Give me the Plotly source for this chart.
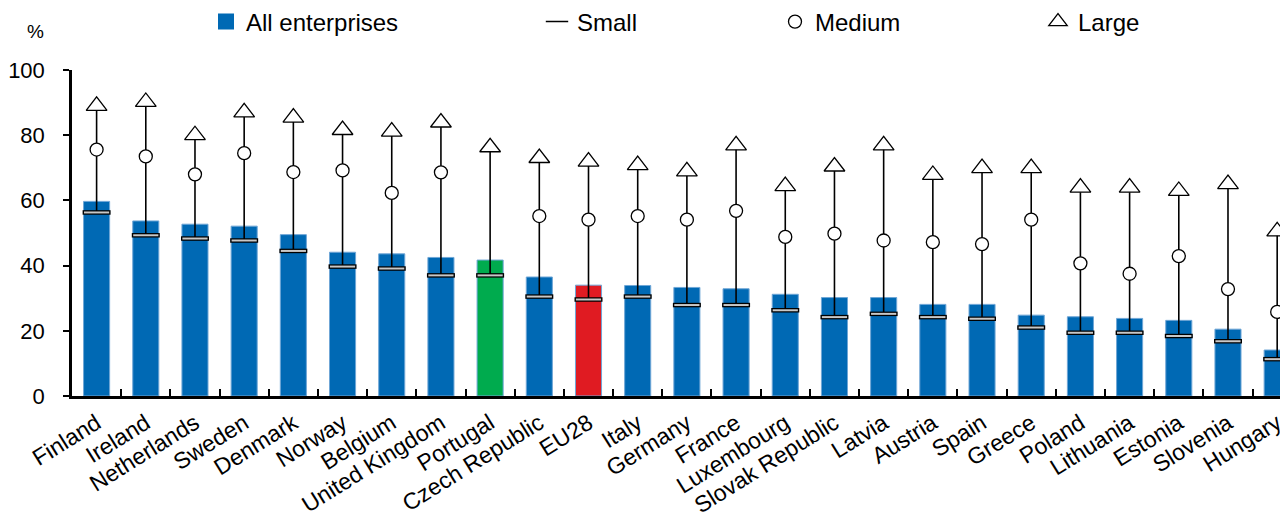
import plotly.graph_objects as go

countries = ["Finland", "Ireland", "Netherlands", "Sweden", "Denmark", "Norway", "Belgium",
             "United Kingdom", "Portugal", "Czech Republic", "EU28", "Italy", "Germany", "France",
             "Luxembourg", "Slovak Republic", "Latvia", "Austria", "Spain", "Greece", "Poland",
             "Lithuania", "Estonia", "Slovenia", "Hungary"]
all_ent = [59.7, 53.7, 52.7, 52.1, 49.5, 44.1, 43.6, 42.5, 41.7, 36.5, 34.0, 33.9, 33.3, 32.9,
           31.2, 30.2, 30.2, 28.1, 28.1, 24.8, 24.3, 23.8, 23.2, 20.5, 14.1]
small = [56.3, 49.3, 48.3, 47.7, 44.5, 39.7, 39.1, 37.0, 37.0, 30.5, 29.6, 30.5, 27.9, 27.9,
         26.3, 24.2, 25.2, 24.2, 23.7, 21.0, 19.4, 19.4, 18.4, 16.8, 11.3]
medium = [75.6, 73.5, 68.0, 74.5, 68.7, 69.2, 62.3, 68.6, None, 55.2, 54.1, 55.2, 54.1, 56.8,
          48.8, 49.8, 47.7, 47.2, 46.6, 54.1, 40.7, 37.5, 42.9, 32.8, 25.8]
large = [89.0, 90.2, 80.0, 87.0, 85.4, 81.6, 81.1, 83.9, 76.3, 73.0, 71.9, 70.8, 68.9, 76.9,
         64.4, 70.4, 76.9, 67.8, 69.9, 69.9, 63.9, 63.9, 62.9, 65.0, 50.5]
highlight = {"Portugal": "#00AB4E", "EU28": "#E01B22"}
y_ticks = [0, 20, 40, 60, 80, 100]

BLUE = "#0069B4"
FONT = "Liberation Sans, Arial, sans-serif"
bar_colors = [highlight.get(c, BLUE) for c in countries]

# page has an 8px body margin: figure is sized so it ends exactly at the window edge
W, H = 1280, 511

# connector lines from small to large
lx, ly = [], []
for c, s, l in zip(countries, small, large):
    lx += [c, c, None]
    ly += [s, l, None]

fig = go.Figure()
fig.add_trace(go.Bar(x=countries, y=all_ent, name="All enterprises", width=0.53,
                     marker=dict(color=bar_colors, line=dict(color="#6FA6D6", width=1)),
                     showlegend=False))
fig.add_trace(go.Scatter(x=[None], y=[None], mode="markers", name="All enterprises",
                         legend="legend",
                         marker=dict(symbol="square", size=16, color=BLUE, line=dict(width=0))))
fig.add_trace(go.Scatter(x=lx, y=ly, mode="lines", line=dict(color="black", width=1.6),
                         showlegend=False, hoverinfo="skip"))
fig.add_trace(go.Scatter(x=countries, y=small, mode="markers", showlegend=False,
                         marker=dict(symbol="line-ew", size=20,
                                     line=dict(color="black", width=4.5))))
fig.add_trace(go.Scatter(x=countries, y=small, mode="markers", showlegend=False,
                         marker=dict(symbol="line-ew", size=18,
                                     line=dict(color="#C8C8C8", width=2))))
fig.add_trace(go.Scatter(x=[None], y=[None], mode="markers", name="Small", legend="legend2",
                         marker=dict(symbol="line-ew", size=16,
                                     line=dict(color="black", width=1.5))))
fig.add_trace(go.Scatter(x=countries, y=medium, mode="markers", name="Medium", legend="legend3",
                         marker=dict(symbol="circle", size=13, color="white",
                                     line=dict(color="black", width=1.3))))
fig.add_trace(go.Scatter(x=countries, y=large, mode="markers", name="Large", legend="legend4",
                         marker=dict(symbol="triangle-up", size=18, color="white",
                                     line=dict(color="black", width=1.3))))

legend_common = dict(orientation="h", xref="container", yref="container", yanchor="middle",
                     y=1 - 14 / H, xanchor="left", bgcolor="rgba(0,0,0,0)",
                     font=dict(family=FONT, size=24, color="black"), borderwidth=0)

fig.update_layout(
    width=W, height=H,
    margin=dict(l=64, r=0, t=62, b=123, autoexpand=False),
    paper_bgcolor="white", plot_bgcolor="white",
    font=dict(family=FONT, size=22, color="black"),
    legend=dict(legend_common, x=198 / W),
    legend2=dict(legend_common, x=529 / W),
    legend3=dict(legend_common, x=767 / W),
    legend4=dict(legend_common, x=1030 / W),
    xaxis=dict(range=[-0.5, 24.22], showline=True, linecolor="black", linewidth=2.5,
               ticks="inside", tickson="boundaries", ticklen=7, tickwidth=2, tickcolor="black",
               tickangle=-32, ticklabelstandoff=2, showgrid=False, zeroline=False,
               tickfont=dict(family=FONT, size=23, color="black")),
    yaxis=dict(range=[0, 100], tickvals=y_ticks, showline=True, linecolor="black", linewidth=2.5,
               ticks="outside", ticklen=6, tickwidth=2, tickcolor="black", ticklabelstandoff=14,
               showgrid=False, zeroline=False,
               tickfont=dict(family=FONT, size=22, color="black")),
    annotations=[dict(text="%", xref="paper", yref="paper", x=-37 / 1216, y=1 + 39 / 326,
                      xanchor="center", yanchor="middle", showarrow=False,
                      font=dict(family=FONT, size=19, color="black"))],
)

fig.write_html("out.html")
